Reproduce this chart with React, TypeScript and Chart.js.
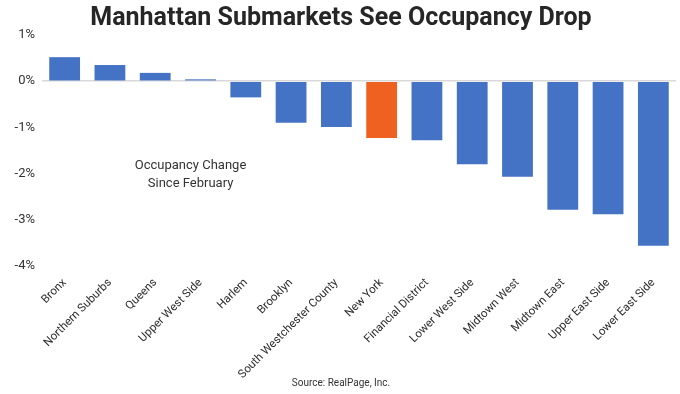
import React, { useEffect, useRef } from "react";
import { Chart, registerables } from "chart.js";

Chart.register(...registerables);

const categories = [
  "Bronx",
  "Northern Suburbs",
  "Queens",
  "Upper West Side",
  "Harlem",
  "Brooklyn",
  "South Westchester County",
  "New York",
  "Financial District",
  "Lower West Side",
  "Midtown West",
  "Midtown East",
  "Upper East Side",
  "Lower East Side",
];

const occupancyChange = [
  0.52, 0.35, 0.18, 0.04, -0.35, -0.9, -0.99, -1.23, -1.28, -1.8, -2.07, -2.78, -2.88, -3.56,
];

const highlighted = ["New York"];

const yTicks = [1, 0, -1, -2, -3, -4];

const titleText = "Manhattan Submarkets See Occupancy Drop";
const sourceText = "Source: RealPage, Inc.";
const annotationLines = ["Occupancy Change", "Since February"];

const BLUE = "#4472C4";
const ORANGE = "#EE6121";

const annotationPlugin = {
  id: "annotationText",
  afterDatasetsDraw(chart: any) {
    const { ctx, scales } = chart;
    const x = scales.x.getPixelForValue(2.78);
    const yc = scales.y.getPixelForValue(-2.03);
    ctx.save();
    ctx.font = "13px Roboto";
    ctx.fillStyle = "#333333";
    ctx.textAlign = "center";
    ctx.textBaseline = "middle";
    const lh = 18;
    annotationLines.forEach((line, i) => {
      ctx.fillText(line, x, yc + (i - (annotationLines.length - 1) / 2) * lh);
    });
    ctx.restore();
  },
};

export default function App() {
  const ref = useRef<HTMLCanvasElement | null>(null);

  useEffect(() => {
    document.body.style.margin = "0";
    if (!ref.current) return;
    const chart = new Chart(ref.current, {
      type: "bar",
      data: {
        labels: categories,
        datasets: [
          {
            data: occupancyChange,
            backgroundColor: categories.map((c) => (highlighted.includes(c) ? ORANGE : BLUE)),
            categoryPercentage: 1,
            barPercentage: 0.68,
          },
        ],
      },
      options: {
        animation: false,
        responsive: false,
        maintainAspectRatio: false,
        layout: { padding: { left: 6, right: 4, top: 0, bottom: 6 } },
        plugins: {
          legend: { display: false },
          tooltip: { enabled: false },
          title: {
            display: true,
            text: titleText,
            color: "#262626",
            font: { family: "Roboto", size: 25, weight: "bold", lineHeight: 1 },
            padding: { top: 6, bottom: 4 },
          },
          subtitle: {
            display: true,
            position: "bottom",
            text: sourceText,
            color: "#333333",
            font: { family: "'Liberation Sans Narrow', Roboto", size: 10, lineHeight: 1 },
            padding: { top: 0, bottom: 0 },
          },
        },
        scales: {
          x: {
            grid: { display: false },
            border: { display: false },
            afterFit(scale: any) {
              scale.height = 112;
              scale.paddingLeft = 0;
              scale.paddingRight = 0;
            },
            ticks: {
              color: "#2b2b2b",
              font: { family: "Roboto", size: 11.5 },
              maxRotation: 45,
              minRotation: 45,
              autoSkip: false,
              padding: 2,
            },
          },
          y: {
            min: -4,
            max: 1,
            afterBuildTicks(scale: any) {
              scale.ticks = yTicks.map((v) => ({ value: v }));
            },
            afterFit(scale: any) {
              scale.width = 36;
            },
            grid: {
              drawTicks: false,
              color: (ctx: any) => (ctx.tick && ctx.tick.value === 0 ? "#D9D9D9" : "rgba(0,0,0,0)"),
              lineWidth: 1.5,
            },
            border: { display: false },
            ticks: {
              color: "#333333",
              font: { family: "Roboto", size: 13 },
              padding: 7,
              callback: (v: any) => `${v}%`,
            },
          },
        },
      },
      plugins: [annotationPlugin],
    });
    return () => chart.destroy();
  }, []);

  return (
    <div style={{ width: 680, height: 394 }}>
      <canvas ref={ref} width={680} height={394} style={{ display: "block" }} />
    </div>
  );
}
